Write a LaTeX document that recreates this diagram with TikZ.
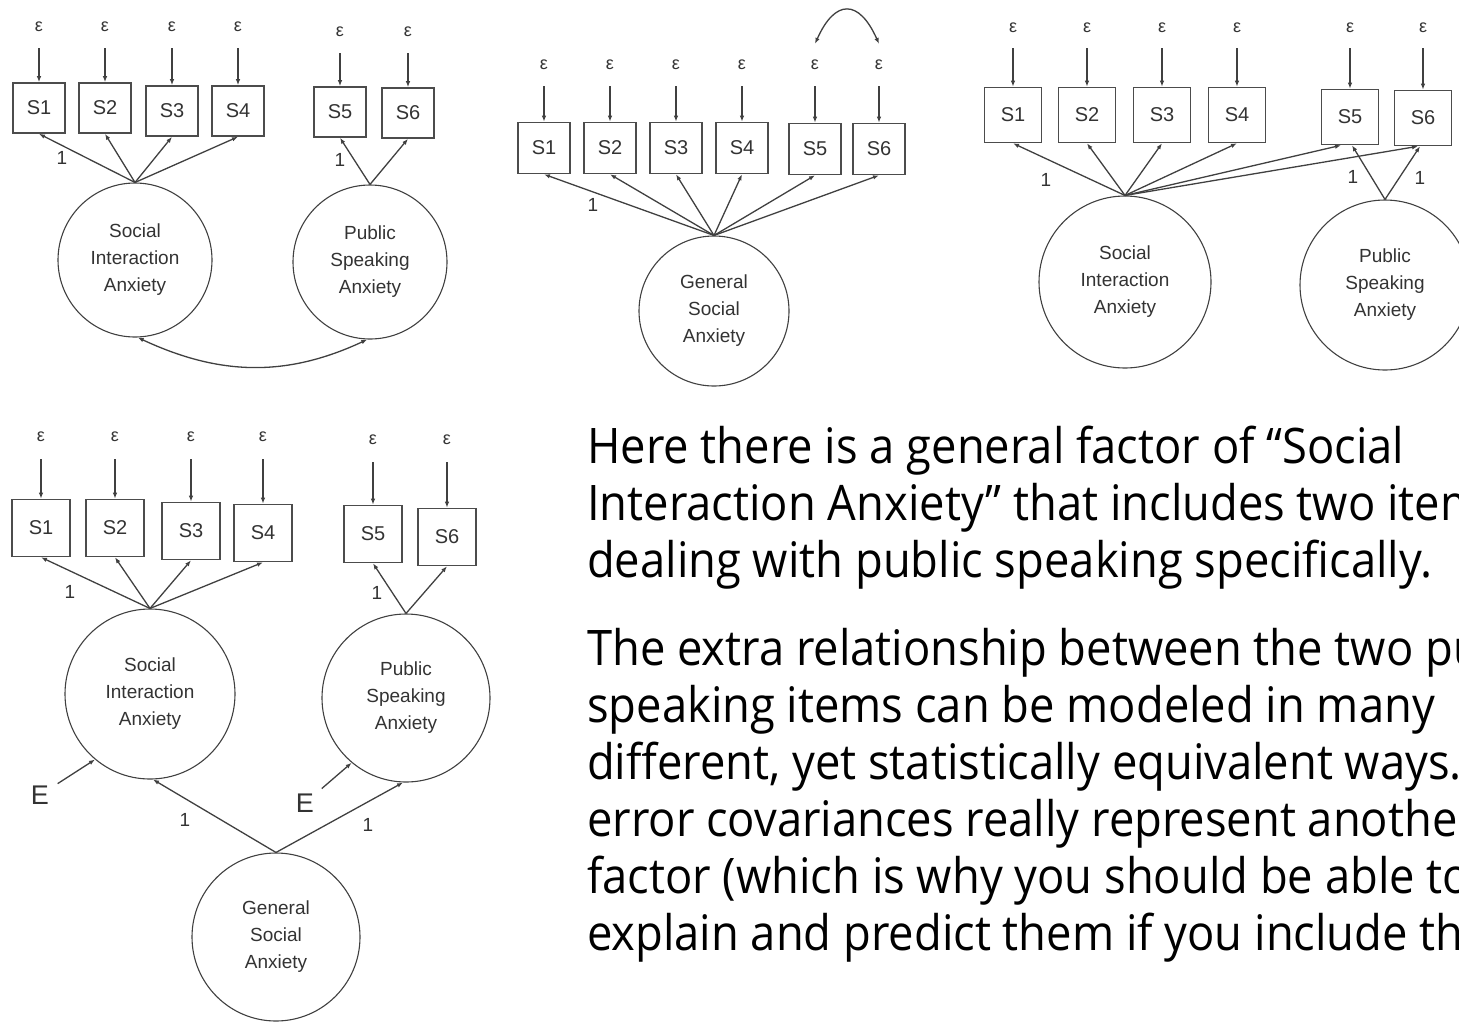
\documentclass[tikz,border=0pt]{standalone}
\usepackage{fontspec}
\setmainfont[FakeStretch=0.925]{Open Sans}
\newfontfamily\semfont{Liberation Sans}
\usetikzlibrary{arrows.meta}

\begin{document}
\begin{tikzpicture}[x=1pt,y=-1pt,
    obs/.style={draw=black!70,line width=1.6pt,inner sep=0pt,font=\semfont\fontsize{20}{22}\selectfont,text=black!80},
    latent/.style={circle,draw=black!75,line width=1.1pt,inner sep=0pt,align=center,font=\semfont\fontsize{19}{27}\selectfont,text=black!80},
    errlab/.style={font=\semfont\fontsize{18}{18}\selectfont,text=black!80,inner sep=2pt},
    ld/.style={draw=black!75,line width=1.3pt,-{Latex[length=6pt,width=4.5pt]}},
    cov/.style={draw=black!75,line width=1.3pt,{Latex[length=6pt,width=4.5pt]}-{Latex[length=6pt,width=4.5pt]}},
    lbl/.style={font=\semfont\fontsize{19}{19}\selectfont,text=black!80,inner sep=0pt},
    prose/.style={anchor=base west,inner sep=0pt,font=\fontsize{49}{57}\selectfont}]
    \useasboundingbox (0,0) rectangle (1459,1021);
    \clip (0,0) rectangle (1459,1021);

    % two correlated factors
    \foreach \i/\x/\y/\e in {1/39/108/27,2/105/108/27,3/172/111/27,4/238/111/27,5/340/112/32,6/408/113/32}{
        \node[obs,minimum width=52pt,minimum height=50pt] (aS\i) at (\x,\y) {S\i};
        \node[errlab] (ae\i) at (\x,\e) {ε};
        \draw[ld,shorten <=14pt] (ae\i) -- (aS\i);
    }
    \node[latent,minimum size=154pt] (aSIA) at (135,260) {Social\\Interaction\\Anxiety};
    \node[latent,minimum size=154pt] (aPSA) at (370,262) {Public\\Speaking\\Anxiety};
    \foreach \i in {1,...,4}{\draw[ld] (aSIA.north) -- (aS\i.south);}
    \foreach \i in {5,6}{\draw[ld] (aPSA.north) -- (aS\i.south);}
    \node[lbl] (a1) at (62,158) {1};
    \node[lbl] (a5) at (340,160) {1};
    \draw[cov] (aSIA.-88) to[out=-25,in=-155] (aPSA.-92);

    % one general factor, correlated errors
    \foreach \i/\x/\y in {1/544/148,2/610/148,3/676/148,4/742/148,5/815/149,6/879/149}{
        \node[obs,minimum width=52pt,minimum height=51pt] (bS\i) at (\x,\y) {S\i};
        \node[errlab] (be\i) at (\x,65) {ε};
        \draw[ld,shorten <=14pt] (be\i) -- (bS\i);
    }
    \node[latent,minimum size=150pt] (bGSA) at (714,311) {General\\Social\\Anxiety};
    \foreach \i in {1,...,6}{\draw[ld] (bGSA.north) -- (bS\i.south);}
    \node[lbl] (b1) at (593,205) {1};
    \draw[cov] ([yshift=14pt]be5.north) .. controls +(20,-45) and +(-20,-45) .. ([yshift=14pt]be6.north);

    % cross loadings
    \foreach \i/\x/\y in {1/1013/115,2/1087/115,3/1162/115,4/1237/115,5/1350/117,6/1423/118}{
        \node[obs,minimum width=57pt,minimum height=55pt] (cS\i) at (\x,\y) {S\i};
        \node[errlab] (ce\i) at (\x,28) {ε};
        \draw[ld,shorten <=13pt] (ce\i) -- (cS\i);
    }
    \node[latent,minimum size=172pt] (cSIA) at (1125,282) {Social\\Interaction\\Anxiety};
    \node[latent,minimum size=170pt] (cPSA) at (1385,285) {Public\\Speaking\\Anxiety};
    \foreach \i in {1,...,4}{\draw[ld] (cSIA.north) -- (cS\i.south);}
    \draw[ld] (cSIA.north) -- ([xshift=-9pt]cS5.south);
    \draw[ld] (cSIA.north) -- ([xshift=-5pt]cS6.south);
    \draw[ld] (cPSA.north) -- ([xshift=2pt]cS5.south);
    \draw[ld] (cPSA.north) -- ([xshift=-3pt]cS6.south);
    \node[lbl] (c1) at (1046,180) {1};
    \node[lbl] (c5) at (1353,177) {1};
    \node[lbl] (c6) at (1420,178) {1};

    % second order factor
    \foreach \i/\x/\y/\e in {1/41/528/437,2/115/528/437,3/191/531/437,4/263/533/437,5/373/534/440,6/447/537/440}{
        \node[obs,minimum width=58pt,minimum height=57pt] (dS\i) at (\x,\y) {S\i};
        \node[errlab] (de\i) at (\x,\e) {ε};
        \draw[ld,shorten <=15pt] (de\i) -- (dS\i);
    }
    \node[latent,minimum size=170pt] (dSIA) at (150,694) {Social\\Interaction\\Anxiety};
    \node[latent,minimum size=168pt] (dPSA) at (406,698) {Public\\Speaking\\Anxiety};
    \node[latent,minimum size=168pt] (dGSA) at (276,937) {General\\Social\\Anxiety};
    \foreach \i in {1,...,4}{\draw[ld] (dSIA.north) -- (dS\i.south);}
    \foreach \i in {5,6}{\draw[ld] (dPSA.north) -- (dS\i.south);}
    \draw[ld] (dGSA.north) -- (dSIA.-88);
    \draw[ld] (dGSA.north) -- (dPSA.-92);
    \node[lbl,font=\semfont\fontsize{27}{27}\selectfont] (dE1) at (40,795) {E};
    \node[lbl,font=\semfont\fontsize{27}{27}\selectfont] (dE2) at (305,803) {E};
    \draw[ld,shorten <=10pt] (dE1) -- (dSIA.230);
    \draw[ld,shorten <=10pt] (dE2) -- (dPSA.230);
    \node[lbl] (d1) at (70,592) {1};
    \node[lbl] (d5) at (377,593) {1};
    \node[lbl] (dg1) at (185,820) {1};
    \node[lbl] (dg2) at (368,825) {1};

    \node[prose] (p1) at (587,463) {Here there is a general factor of “Social};
    \node[prose] (p2) at (587,520) {Interaction Anxiety” that includes two items};
    \node[prose] (p3) at (587,577) {dealing with public speaking specifically.};
    \node[prose] (p4) at (587,665) {The extra relationship between the two public};
    \node[prose] (p5) at (587,722) {speaking items can be modeled in many};
    \node[prose] (p6) at (587,779) {different, yet statistically equivalent ways...};
    \node[prose] (p7) at (587,836) {error covariances really represent another};
    \node[prose] (p8) at (587,893) {factor (which is why you should be able to};
    \node[prose] (p9) at (587,950) {explain and predict them if you include them};
\end{tikzpicture}
\end{document}
